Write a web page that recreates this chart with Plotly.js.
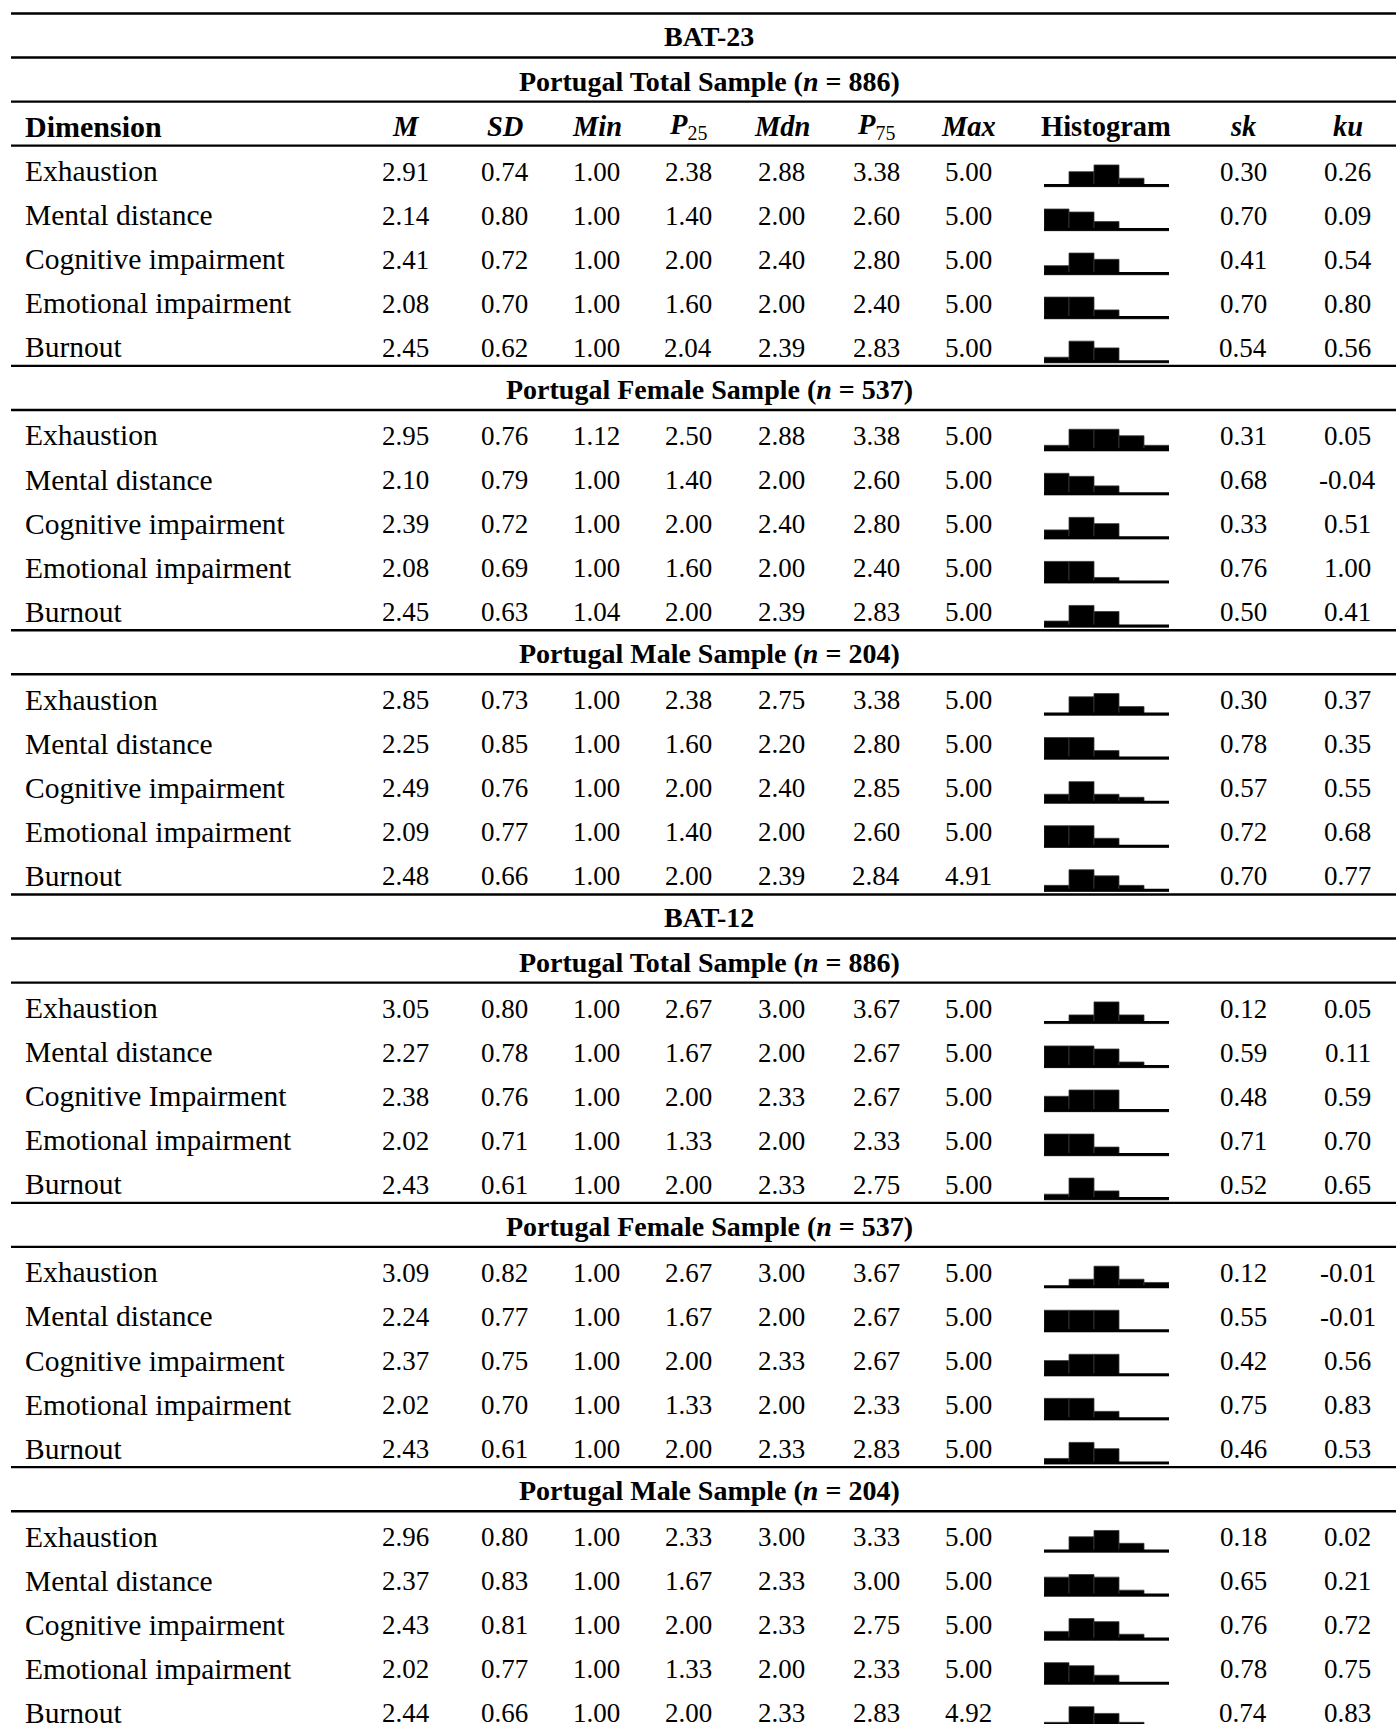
<!DOCTYPE html>
<html><head><meta charset="utf-8">
<script src="https://cdn.plot.ly/plotly-3.0.1.min.js"></script>
<style>html,body{margin:0;padding:0;background:#fff}</style>
</head><body><div id="chart" style="width:1396px;height:1724px"></div>
<script>
// ---------- data ----------
const dimNames = ["Exhaustion","Mental distance","Cognitive impairment","Emotional impairment","Burnout"];
const dimNamesB12Total = ["Exhaustion","Mental distance","Cognitive Impairment","Emotional impairment","Burnout"];
const statHeads = ["<b><i>M</i></b>","<b><i>SD</i></b>","<b><i>Min</i></b>","<b><i>P</i></b><sub>25</sub>","<b><i>Mdn</i></b>","<b><i>P</i></b><sub>75</sub>","<b><i>Max</i></b>"];
const shapeHeads = ["<b><i>sk</i></b>","<b><i>ku</i></b>"];
const blockTitles = ["BAT-23","BAT-12"];
const groupNames = ["Portugal Total Sample","Portugal Female Sample","Portugal Male Sample"];
const groupN = [886, 537, 204];

// rows: M, SD, Min, P25, Mdn, P75, Max, sk, ku
const bat23Total = [
 [2.91,0.74,1.00,2.38,2.88,3.38,5.00,0.30,0.26],
 [2.14,0.80,1.00,1.40,2.00,2.60,5.00,0.70,0.09],
 [2.41,0.72,1.00,2.00,2.40,2.80,5.00,0.41,0.54],
 [2.08,0.70,1.00,1.60,2.00,2.40,5.00,0.70,0.80],
 [2.45,0.62,1.00,2.04,2.39,2.83,5.00,0.54,0.56]];
const bat23Female = [
 [2.95,0.76,1.12,2.50,2.88,3.38,5.00,0.31,0.05],
 [2.10,0.79,1.00,1.40,2.00,2.60,5.00,0.68,-0.04],
 [2.39,0.72,1.00,2.00,2.40,2.80,5.00,0.33,0.51],
 [2.08,0.69,1.00,1.60,2.00,2.40,5.00,0.76,1.00],
 [2.45,0.63,1.04,2.00,2.39,2.83,5.00,0.50,0.41]];
const bat23Male = [
 [2.85,0.73,1.00,2.38,2.75,3.38,5.00,0.30,0.37],
 [2.25,0.85,1.00,1.60,2.20,2.80,5.00,0.78,0.35],
 [2.49,0.76,1.00,2.00,2.40,2.85,5.00,0.57,0.55],
 [2.09,0.77,1.00,1.40,2.00,2.60,5.00,0.72,0.68],
 [2.48,0.66,1.00,2.00,2.39,2.84,4.91,0.70,0.77]];
const bat12Total = [
 [3.05,0.80,1.00,2.67,3.00,3.67,5.00,0.12,0.05],
 [2.27,0.78,1.00,1.67,2.00,2.67,5.00,0.59,0.11],
 [2.38,0.76,1.00,2.00,2.33,2.67,5.00,0.48,0.59],
 [2.02,0.71,1.00,1.33,2.00,2.33,5.00,0.71,0.70],
 [2.43,0.61,1.00,2.00,2.33,2.75,5.00,0.52,0.65]];
const bat12Female = [
 [3.09,0.82,1.00,2.67,3.00,3.67,5.00,0.12,-0.01],
 [2.24,0.77,1.00,1.67,2.00,2.67,5.00,0.55,-0.01],
 [2.37,0.75,1.00,2.00,2.33,2.67,5.00,0.42,0.56],
 [2.02,0.70,1.00,1.33,2.00,2.33,5.00,0.75,0.83],
 [2.43,0.61,1.00,2.00,2.33,2.83,5.00,0.46,0.53]];
const bat12Male = [
 [2.96,0.80,1.00,2.33,3.00,3.33,5.00,0.18,0.02],
 [2.37,0.83,1.00,1.67,2.33,3.00,5.00,0.65,0.21],
 [2.43,0.81,1.00,2.00,2.33,2.75,5.00,0.76,0.72],
 [2.02,0.77,1.00,1.33,2.00,2.33,5.00,0.78,0.75],
 [2.44,0.66,1.00,2.00,2.33,2.83,4.92,0.74,0.83]];

// histogram bin heights (percent of tallest bin), 5 bins per dimension
const histBins = [1,2,3,4,5];
const bat23TotalHist = [[5,69,100,39,5],[100,86,42,5,5],[42,100,71,5,5],[100,100,41,5,5],[26,100,69,5,5]];
const bat23FemaleHist = [[26,100,100,70,26],[100,86,42,5,5],[42,100,71,5,5],[100,100,26,5,5],[28,100,72,5,5]];
const bat23MaleHist = [[5,85,100,40,5],[100,100,40,5,5],[42,100,42,28,5],[100,100,42,5,5],[28,100,72,28,5]];
const bat12TotalHist = [[5,40,100,40,5],[100,100,86,26,5],[71,100,100,5,5],[100,100,40,5,5],[26,100,41,5,5]];
const bat12FemaleHist = [[5,40,100,40,25],[100,100,100,5,5],[71,100,100,5,5],[100,100,40,5,5],[26,100,71,5,5]];
const bat12MaleHist = [[5,71,100,41,5],[88,100,88,28,5],[41,100,86,28,5],[100,86,42,5,5],[28,100,69,28,5]];

// ---------- layout geometry ----------
const W = 1396, H = 1724, TOP = 13.5, RH = 44.05;
const LEFT = 11, LABEL_X = 23.5;
const colX = [405.6, 504.5, 596.9, 688.1, 781.5, 876.1, 968.4];
const histX0 = 1044, histX1 = 1169, histCenter = 1106;
const skuX = [1243.2, 1347.6];
const titleX = 709;
const NUM_FONT = {family: "Liberation Serif", size: 27, color: "#000"};
const LABEL_FONT = {family: "Liberation Serif", size: 29.5, color: "#000"};
const TITLE_FONT = {family: "Liberation Serif", size: 28, color: "#000"};
const HEAD_FONT = {family: "Liberation Serif", size: 28.5, color: "#000"};
const DIMHEAD_FONT = {family: "Liberation Serif", size: 30, color: "#000"};

const blocks = [
  {title: blockTitles[0], groups: [
    {name: groupNames[0], n: groupN[0], dims: dimNames, stats: bat23Total, hist: bat23TotalHist},
    {name: groupNames[1], n: groupN[1], dims: dimNames, stats: bat23Female, hist: bat23FemaleHist},
    {name: groupNames[2], n: groupN[2], dims: dimNames, stats: bat23Male, hist: bat23MaleHist}]},
  {title: blockTitles[1], groups: [
    {name: groupNames[0], n: groupN[0], dims: dimNamesB12Total, stats: bat12Total, hist: bat12TotalHist},
    {name: groupNames[1], n: groupN[1], dims: dimNames, stats: bat12Female, hist: bat12FemaleHist},
    {name: groupNames[2], n: groupN[2], dims: dimNames, stats: bat12Male, hist: bat12MaleHist}]}
];

const annotations = [], shapes = [], traces = [];
const layout = {
  width: W, height: H, margin: {l: 0, r: 0, t: 0, b: 0},
  paper_bgcolor: "#fff", plot_bgcolor: "rgba(0,0,0,0)",
  showlegend: false, bargap: 0, annotations, shapes
};

const py = px => 1 - px / H;
function text(t, x, row, font, dy, anchor) {
  annotations.push({text: t, x: x / W, y: py(TOP + (row + 0.5) * RH + dy),
    xref: "paper", yref: "paper", xanchor: anchor || "center", yanchor: "middle",
    showarrow: false, font: font, borderpad: 0});
}
function hline(afterRow) {
  const y = py(TOP + afterRow * RH);
  shapes.push({type: "line", xref: "paper", yref: "paper", x0: LEFT / W, x1: 1, y0: y, y1: y,
    line: {color: "#000", width: 2.4}});
}
const fmt = v => v.toFixed(2);

let row = 0, k = 0;
hline(0);
blocks.forEach((blk, bi) => {
  text("<b>" + blk.title + "</b>", titleX, row, TITLE_FONT, 1); row++; hline(row);
  blk.groups.forEach((g, gi) => {
    text("<b>" + g.name + " (<i>n</i> = " + g.n + ")</b>", titleX, row, TITLE_FONT, 1.5); row++; hline(row);
    if (bi === 0 && gi === 0) {
      text("<b>Dimension</b>", LABEL_X, row, DIMHEAD_FONT, 3, "left");
      statHeads.forEach((h, c) => text(h, colX[c], row, HEAD_FONT, 3));
      text("<b>Histogram</b>", histCenter, row, HEAD_FONT, 3);
      shapeHeads.forEach((h, c) => text(h, skuX[c], row, HEAD_FONT, 3));
      row++; hline(row);
    }
    g.dims.forEach((d, i) => {
      const s = g.stats[i];
      text(d, LABEL_X, row, LABEL_FONT, 3.5, "left");
      for (let c = 0; c < 7; c++) text(fmt(s[c]), colX[c], row, NUM_FONT, 4);
      text(fmt(s[7]), skuX[0], row, NUM_FONT, 4);
      text(fmt(s[8]), skuX[1], row, NUM_FONT, 4);
      // histogram subplot
      k++;
      const id = k === 1 ? "" : String(k);
      const rowTop = TOP + row * RH;
      const basePx = rowTop + 41;          // bottom of histogram baseline
      const unitPx = 21.7 / 100;           // px per percent
      const domTopPx = rowTop + 12;
      const domBotPx = Math.min(rowTop + 43, H);
      layout["xaxis" + id] = {domain: [histX0 / W, histX1 / W], range: [0.5, 5.5], visible: false,
        anchor: "y" + id, fixedrange: true};
      layout["yaxis" + id] = {domain: [py(domBotPx), py(domTopPx)],
        range: [(basePx - domBotPx) / unitPx, (basePx - domTopPx) / unitPx], visible: false,
        anchor: "x" + id, fixedrange: true};
      traces.push({type: "bar", x: histBins, y: g.hist[i], xaxis: "x" + id, yaxis: "y" + id,
        width: 1, marker: {color: "#000", line: {color: "#3a3a3a", width: 0.8}}, hoverinfo: "skip"});
      const baseH = 2.7 / unitPx;
      traces.push({type: "scatter", mode: "lines", x: [0.5, 5.5], y: [baseH / 2, baseH / 2],
        xaxis: "x" + id, yaxis: "y" + id, line: {color: "#000", width: 2.7}, hoverinfo: "skip"});
      row++;
    });
    const lastGroup = bi === blocks.length - 1 && gi === blk.groups.length - 1;
    if (!lastGroup) hline(row);
  });
});

Plotly.newPlot("chart", traces, layout, {staticPlot: true, displayModeBar: false});
</script></body></html>
